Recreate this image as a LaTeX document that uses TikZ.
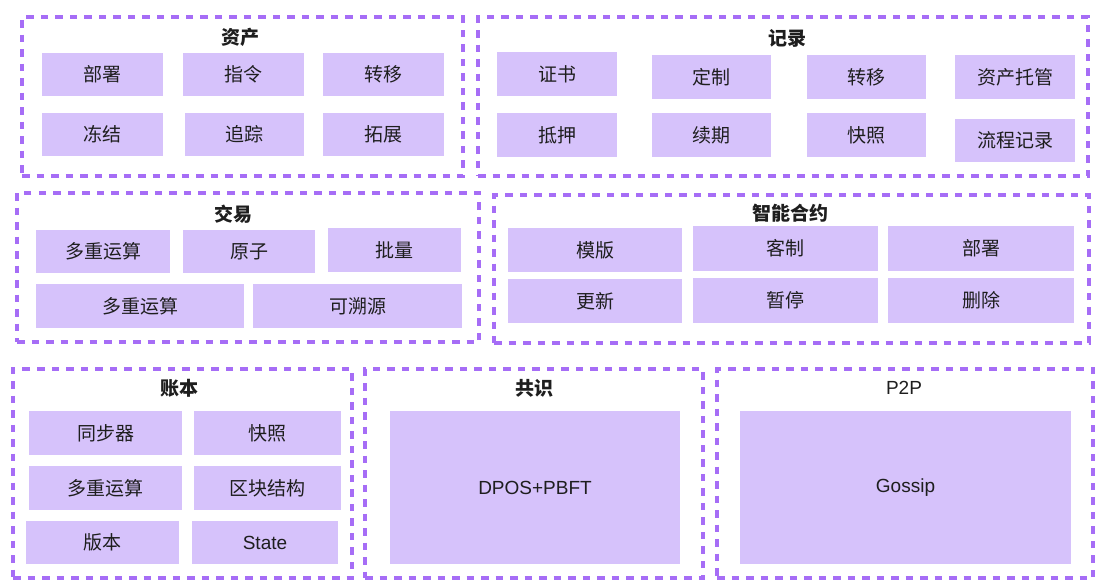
\documentclass[tikz,border=0pt]{standalone}
\usepackage{fontspec}
\setmainfont{Noto Sans CJK SC}
\newfontfamily\latinf{Liberation Sans}
\definecolor{dashc}{HTML}{A66DF6}
\definecolor{cellc}{HTML}{D6C2FB}
\definecolor{txtc}{HTML}{1E1E1E}
\tikzset{
  grp/.style={draw=dashc, line width=3.2pt, dash pattern=on 7.5pt off 7pt, inner sep=0pt, fill=none},
  cell/.style={fill=cellc, draw=none, inner sep=0pt, text=txtc, font=\fontsize{19}{22}\selectfont},
  ttl/.style={text=txtc, font=\fontsize{19}{22}\selectfont\bfseries, inner sep=0pt},
  lttl/.style={text=txtc, font=\fontsize{19}{22}\selectfont\latinf, inner sep=0pt},
  lcell/.style={cell, font=\fontsize{19}{22}\selectfont\latinf}
}
\newcommand{\bx}[7][cell]{%
  \node[#1, minimum width={(#5)-(#3)}, minimum height={(#6)-(#4)}] (#2) at ({((#3)+(#5))/2},{((#4)+(#6))/2}) {#7};}
\newcommand{\gp}[5]{%
  \node[grp, minimum width={(#4)-(#2)}, minimum height={(#5)-(#3)}] (#1) at ({((#2)+(#4))/2},{((#3)+(#5))/2}) {};}
\begin{document}
\begin{tikzpicture}[x=1pt,y=-1pt]
\useasboundingbox (0,0) rectangle (1103,581);
% 资产
\gp{gA}{22}{17}{463}{176}
\node[ttl] (tA) at (240,37) {资产};
\bx{a1}{42}{53}{163}{96}{部署}
\bx{a2}{183}{53}{304}{96}{指令}
\bx{a3}{323}{53}{444}{96}{转移}
\bx{a4}{42}{113}{163}{156}{冻结}
\bx{a5}{185}{113}{304}{156}{追踪}
\bx{a6}{323}{113}{444}{156}{拓展}
% 记录
\gp{gB}{478}{17}{1088}{176}
\node[ttl] (tB) at (787,38) {记录};
\bx{b1}{497}{52}{617}{96}{证书}
\bx{b2}{652}{55}{771}{99}{定制}
\bx{b3}{807}{55}{926}{99}{转移}
\bx{b4}{955}{55}{1075}{99}{资产托管}
\bx{b5}{497}{113}{617}{157}{抵押}
\bx{b6}{652}{113}{771}{157}{续期}
\bx{b7}{807}{113}{926}{157}{快照}
\bx{b8}{955}{119}{1075}{162}{流程记录}
% 交易
\gp{gC}{17}{193}{479}{342}
\node[ttl] (tC) at (233,214) {交易};
\bx{c1}{36}{230}{170}{273}{多重运算}
\bx{c2}{183}{230}{315}{273}{原子}
\bx{c3}{328}{228}{461}{272}{批量}
\bx{c4}{36}{284}{244}{328}{多重运算}
\bx{c5}{253}{284}{462}{328}{可溯源}
% 智能合约
\gp{gD}{494}{195}{1089}{343}
\node[ttl] (tD) at (790,213) {智能合约};
\bx{d1}{508}{228}{682}{272}{模版}
\bx{d2}{693}{226}{878}{271}{客制}
\bx{d3}{888}{226}{1074}{271}{部署}
\bx{d4}{508}{279}{682}{323}{更新}
\bx{d5}{693}{278}{878}{323}{暂停}
\bx{d6}{888}{278}{1074}{323}{删除}
% 账本
\gp{gE}{13}{369}{352}{578}
\node[ttl] (tE) at (179,388) {账本};
\bx{e1}{29}{411}{182}{455}{同步器}
\bx{e2}{194}{411}{341}{455}{快照}
\bx{e3}{29}{466}{182}{510}{多重运算}
\bx{e4}{194}{466}{341}{510}{区块结构}
\bx{e5}{26}{521}{179}{564}{版本}
\bx[lcell]{e6}{192}{521}{338}{564}{State}
% 共识
\gp{gF}{365}{369}{703}{578}
\node[ttl] (tF) at (534,388) {共识};
\bx[lcell]{f1}{390}{411}{680}{564}{DPOS+PBFT}
% P2P
\gp{gG}{717}{369}{1093}{578}
\node[lttl] (tG) at (904,388) {P2P};
\bx[lcell]{g1}{740}{411}{1071}{564}{Gossip}
\end{tikzpicture}
\end{document}
